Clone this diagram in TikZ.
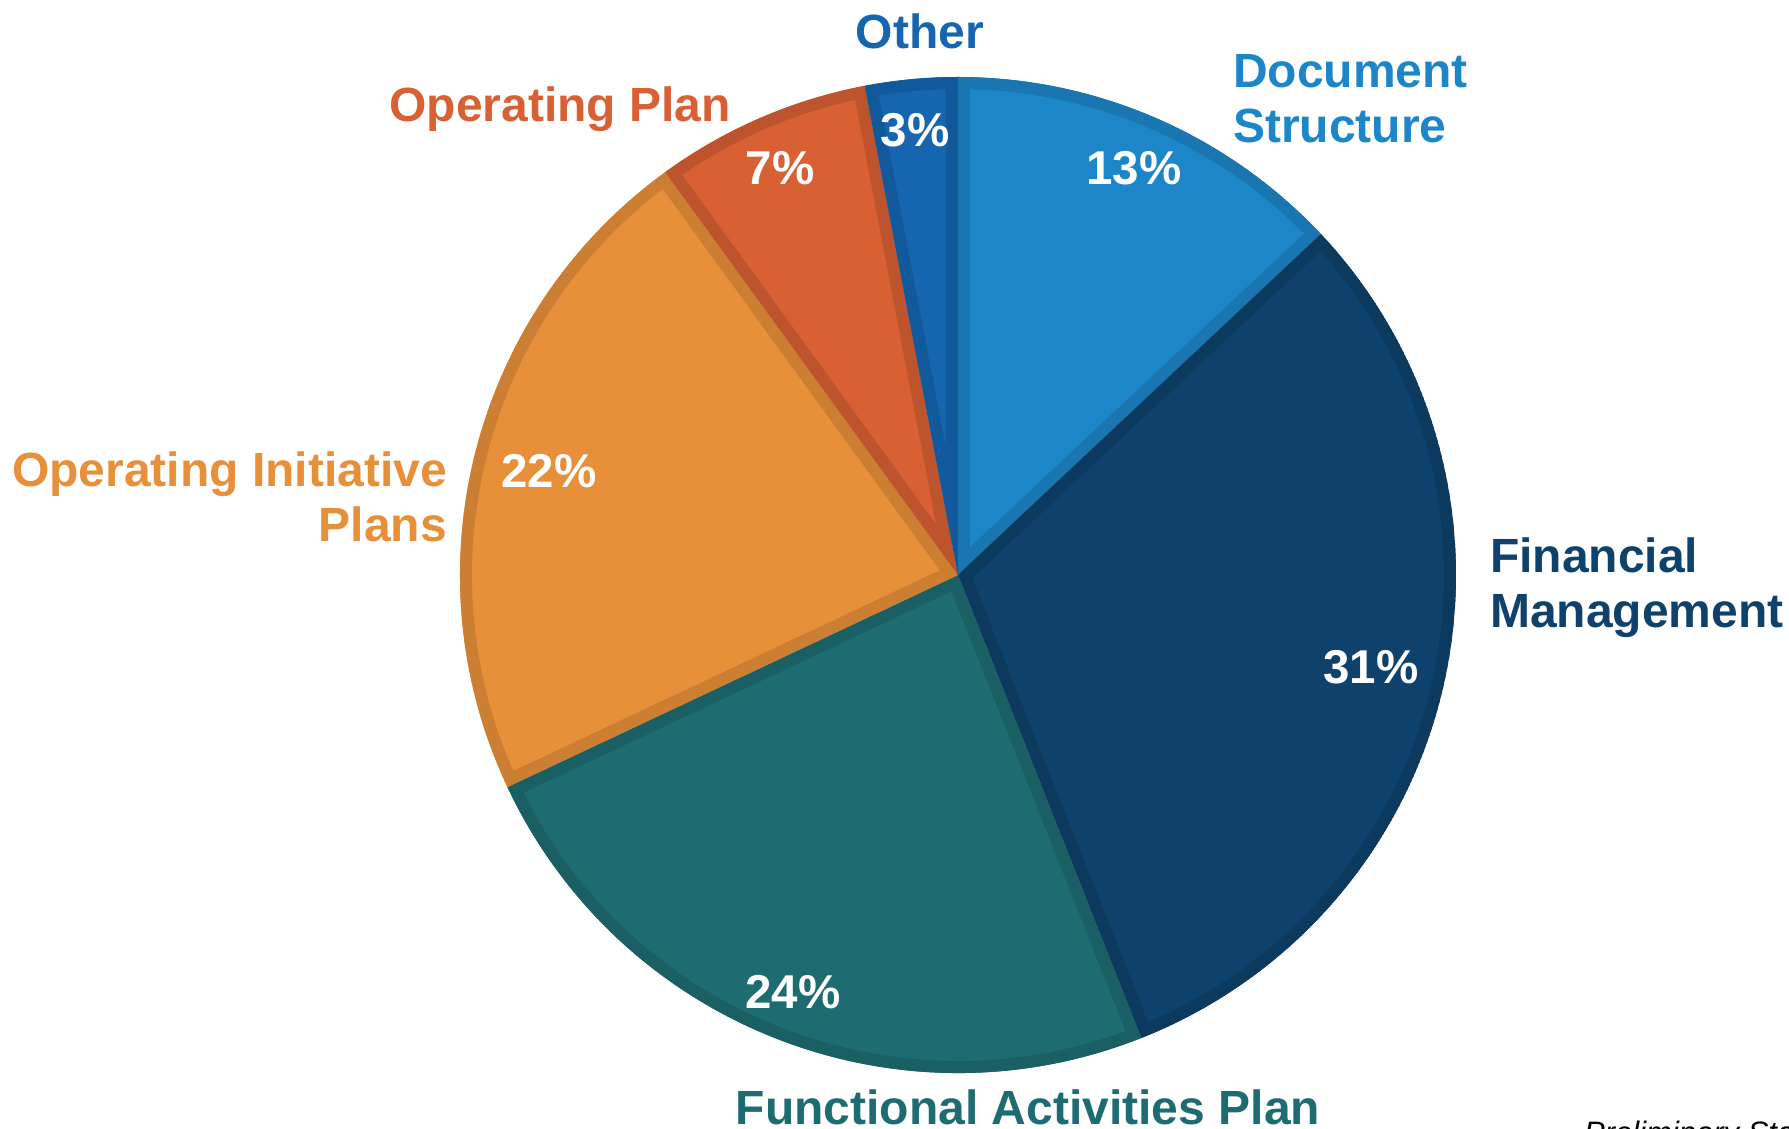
\documentclass[tikz,border=0pt]{standalone}
\usepackage{fontspec}
\setmainfont{Liberation Sans}

\definecolor{docblue}{HTML}{1C86C8}
\definecolor{finnavy}{HTML}{0E416B}
\definecolor{functeal}{HTML}{1C6C71}
\definecolor{initorange}{HTML}{E88F3A}
\definecolor{planred}{HTML}{D86033}
\definecolor{otherblue}{HTML}{1565B0}

\tikzset{every node/.style={inner sep=0pt,font=\bfseries\fontsize{48}{55}\selectfont},
  pct/.style={text=white,font=\bfseries\fontsize{47.5}{47.5}\selectfont}}

% wedge from angle #1 to #2, filled #3, inner band darker
\newcommand{\pieslice}[3]{%
  \begin{scope}
    \clip (0,0) -- (#1:498) arc[start angle=#1,end angle=#2,radius=498] -- cycle;
    \fill[#3] (0,0) -- (#1:498) arc[start angle=#1,end angle=#2,radius=498] -- cycle;
    \draw[#3!88!black,line width=24,line join=round] (0,0) -- (#1:498) arc[start angle=#1,end angle=#2,radius=498] -- cycle;
  \end{scope}}

\begin{document}
\begin{tikzpicture}[x=1pt,y=1pt]
      \useasboundingbox (-958,-554) rectangle (831,575);
      \clip (-958,-554) rectangle (831,575);

      \pieslice{43.2}{90}{docblue}
      \pieslice{-68.4}{43.2}{finnavy}
      \pieslice{-154.8}{-68.4}{functeal}
      \pieslice{126}{205.2}{initorange}
      \pieslice{100.8}{126}{planred}
      \pieslice{90}{100.8}{otherblue}

      \node[pct] (pdoc) at (176,407) {13\%};
      \node[pct] (pfin) at (413,-92) {31\%};
      \node[pct] (pfunc) at (-165,-417) {24\%};
      \node[pct] (pinit) at (-409,104) {22\%};
      \node[pct] (pplan) at (-178,407) {7\%};
      \node[pct] (pother) at (-43,445) {3\%};

      % multi-line nodes: base is the last line
      \node[text=otherblue,anchor=base] (other) at (-38,526) {Other};
      \node[text=planred,anchor=base east] (opplan) at (-227,453) {Operating Plan};
      \node[text=docblue,anchor=base west,align=left] (docstruct) at (275,432) {Document\\Structure};
      \node[text=finnavy,anchor=base west,align=left] (finmgmt) at (532,-53) {Financial\\Management};
      \node[text=initorange,anchor=base east,align=right] (opinit) at (-511,33) {Operating Initiative\\Plans};
      \node[text=functeal,anchor=base] (funcact) at (70,-549) {Functional Activities Plan};
      \node[anchor=base west,font=\itshape\fontsize{31}{31}\selectfont] (prelim) at (626,-568) {Preliminary Staff};
    \end{tikzpicture}
\end{document}
